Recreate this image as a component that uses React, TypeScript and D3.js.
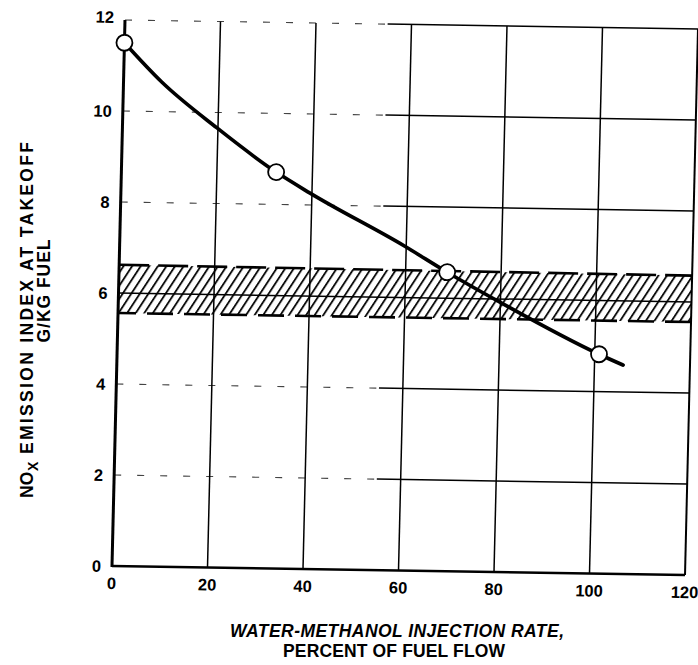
import React from "react";
import * as d3 from "d3";

// ---- data ----
const xTicks = [0, 20, 40, 60, 80, 100, 120];
const yTicks = [0, 2, 4, 6, 8, 10, 12];
const dashedGridY = [2, 4, 8, 10, 12];
const vertGridX = [20, 40, 60, 80, 100];

const measuredX = [0, 32.4, 68.7, 100.9];
const measuredY = [11.5, 8.71, 6.57, 4.82];

const curveX = [0, 8, 19.8, 32.4, 39.6, 59.8, 68.7, 79.9, 100.9, 106];
const curveY = [11.5, 10.65, 9.66, 8.71, 8.26, 7.12, 6.57, 5.93, 4.82, 4.59];

const bandX = [0, 120];
const bandLower = [5.56, 5.56];
const bandUpper = [6.62, 6.58];
const bandMid = [6, 6];

export default function App() {
  const W = 698;
  const H = 665;
  const x = d3.scaleLinear().domain([0, 120]).range([0, 573]);
  const y = d3.scaleLinear().domain([0, 12]).range([0, -546]);

  const curvePts: [number, number][] = curveX.map((v, i) => [v, curveY[i]]);
  const line = d3
    .line<[number, number]>()
    .x((d) => x(d[0]))
    .y((d) => y(d[1]))
    .curve(d3.curveMonotoneX);

  const bandPts: [number, number][] = [
    [bandX[0], bandUpper[0]],
    [bandX[1], bandUpper[1]],
    [bandX[1], bandLower[1]],
    [bandX[0], bandLower[0]],
  ];
  const bandPath = d3.line<[number, number]>().x((d) => x(d[0])).y((d) => y(d[1]))(bandPts) + "Z";

  const dashEnd = 55;
  const font = "'Liberation Sans', Arial, Helvetica, sans-serif";

  return (
    <svg
      width={W}
      height={H}
      viewBox={`0 0 ${W} ${H}`}
      style={{ position: "absolute", left: 0, top: 0, background: "#fff" }}
    >
      <defs>
        <pattern
          id="hatch"
          width={8.5}
          height={10}
          patternUnits="userSpaceOnUse"
          patternTransform="skewX(-32)"
        >
          <line x1={4} y1={-1} x2={4} y2={11} stroke="#000" strokeWidth={2.1} />
        </pattern>
      </defs>
      <rect x={0} y={0} width={W} height={H} fill="#fff" />
      <g transform="matrix(1,0.0157,-0.0238,1,112,566)">
        {/* hatched band */}
        <path d={bandPath} fill="url(#hatch)" stroke="none" />
        <line
          x1={x(bandX[0])}
          y1={y(bandUpper[0])}
          x2={x(bandX[1])}
          y2={y(bandUpper[1])}
          stroke="#000"
          strokeWidth={2.6}
          strokeDasharray="30,9"
        />
        <line
          x1={x(bandX[0])}
          y1={y(bandLower[0])}
          x2={x(bandX[1])}
          y2={y(bandLower[1])}
          stroke="#000"
          strokeWidth={2.6}
          strokeDasharray="26,11"
          strokeDashoffset={8}
        />
        <line
          x1={x(bandX[0])}
          y1={y(bandMid[0])}
          x2={x(bandX[1])}
          y2={y(bandMid[1])}
          stroke="#000"
          strokeWidth={1.5}
        />

        {/* horizontal grid: dashed on the left, solid to the right */}
        {dashedGridY.map((v) => (
          <g key={"h" + v}>
            <line
              x1={x(0)}
              x2={x(dashEnd)}
              y1={y(v)}
              y2={y(v)}
              stroke="#444"
              strokeWidth={1.1}
              strokeDasharray="7,16"
            />
            <line
              x1={x(dashEnd)}
              x2={x(120)}
              y1={y(v)}
              y2={y(v)}
              stroke="#000"
              strokeWidth={1.5}
            />
          </g>
        ))}

        {/* vertical grid */}
        {vertGridX.map((v) => (
          <line
            key={"v" + v}
            x1={x(v)}
            x2={x(v)}
            y1={y(0)}
            y2={y(12)}
            stroke="#000"
            strokeWidth={1.5}
          />
        ))}
        <line x1={x(120)} x2={x(120)} y1={y(0)} y2={y(12)} stroke="#000" strokeWidth={2} />

        {/* axes */}
        <line x1={x(0)} x2={x(120)} y1={y(0)} y2={y(0)} stroke="#000" strokeWidth={2.6} />
        <line x1={x(0)} x2={x(0)} y1={y(0) + 1} y2={y(12)} stroke="#000" strokeWidth={3} />

        {/* curve */}
        <path d={line(curvePts) || ""} fill="none" stroke="#000" strokeWidth={3.6} strokeLinecap="round" />
        {measuredX.map((v, i) => (
          <circle
            key={"c" + i}
            cx={x(v)}
            cy={y(measuredY[i])}
            r={8}
            fill="#fff"
            stroke="#000"
            strokeWidth={1.8}
          />
        ))}

        {/* tick labels */}
        {xTicks.map((v) => (
          <text
            key={"xt" + v}
            x={x(v)}
            y={23}
            textAnchor="middle"
            fontFamily={font}
            fontWeight="bold"
            fontSize={16.5}
            fill="#000"
          >
            {v}
          </text>
        ))}
        {yTicks.map((v) => (
          <text
            key={"yt" + v}
            x={-11}
            y={y(v) - (v === 12 ? 3 : 0)}
            dy="0.36em"
            textAnchor="end"
            fontFamily={font}
            fontWeight="bold"
            fontSize={16.5}
            fill="#000"
          >
            {v}
          </text>
        ))}
      </g>

      {/* x axis title */}
      <text
        x={397}
        y={637}
        textAnchor="middle"
        fontFamily={font}
        fontWeight="bold"
        fontStyle="italic"
        fontSize={17.5}
        textLength={334}
        lengthAdjust="spacing"
        fill="#000"
      >
        WATER-METHANOL INJECTION RATE,
      </text>
      <text
        x={394}
        y={657}
        textAnchor="middle"
        fontFamily={font}
        fontWeight="bold"
        fontSize={17.5}
        textLength={222}
        lengthAdjust="spacing"
        fill="#000"
      >
        PERCENT OF FUEL FLOW
      </text>

      {/* y axis title */}
      <g transform="translate(33,498) rotate(-90)">
        <text x={0} y={0} fontFamily={font} fontWeight="bold" fontSize={17.5} fill="#000">
          NO
        </text>
        <text x={27} y={5} fontFamily={font} fontWeight="bold" fontSize={14} fill="#000">
          X
        </text>
        <text
          x={44}
          y={0}
          fontFamily={font}
          fontWeight="bold"
          fontSize={17.5}
          textLength={312}
          lengthAdjust="spacing"
          fill="#000"
        >
          EMISSION INDEX AT TAKEOFF
        </text>
      </g>
      <text
        transform="translate(50,291) rotate(-90)"
        x={0}
        y={0}
        textAnchor="middle"
        fontFamily={font}
        fontWeight="bold"
        fontSize={17.5}
        textLength={103}
        lengthAdjust="spacing"
        fill="#000"
      >
        G/KG FUEL
      </text>
    </svg>
  );
}
